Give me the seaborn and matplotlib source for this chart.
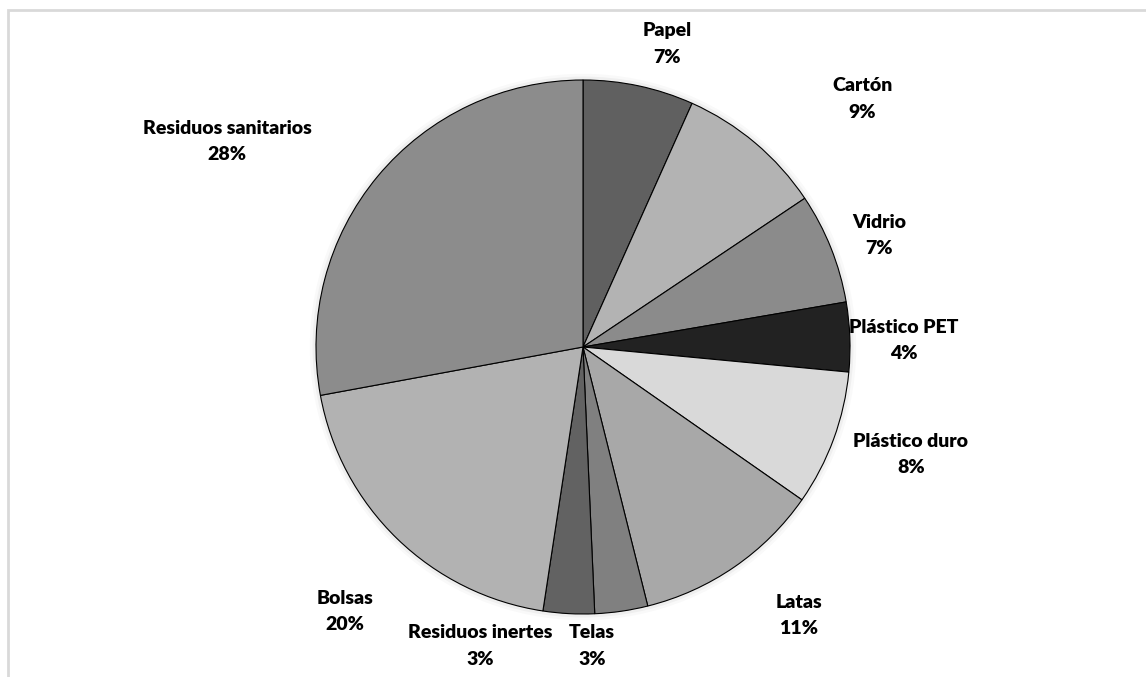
import matplotlib
matplotlib.use("Agg")
import matplotlib.pyplot as plt
import matplotlib.patches as mpatches
import seaborn as sns

# Composition of collected waste (share of total weight)
categories = ["Papel", "Cartón", "Vidrio", "Plástico PET", "Plástico duro",
              "Latas", "Telas", "Residuos inertes", "Bolsas", "Residuos sanitarios"]
shares = [6.7, 8.9, 6.7, 4.2, 8.2, 11.4, 3.2, 3.1, 19.7, 27.9]

# Grey fill for each wedge
wedge_colors = ["#606060", "#b3b3b3", "#8b8b8b", "#222222", "#d9d9d9",
                "#a8a8a8", "#808080", "#626262", "#b2b2b2", "#8c8c8c"]

# Label anchor points, in units of the pie radius
label_xy = [(0.315, 1.135), (1.045, 0.929), (1.110, 0.419), (1.200, 0.026),
            (1.228, -0.404), (0.809, -1.004), (0.034, -1.120), (-0.385, -1.120),
            (-0.891, -0.989), (-1.333, 0.768)]

sns.set_theme(style="white")
plt.rcParams["font.family"] = ["Lato", "DejaVu Sans"]

W, H = 1146, 677
fig = plt.figure(figsize=(W / 100, H / 100), dpi=100)
fig.patch.set_facecolor("white")

# Light chart-area frame (extends past the right and bottom edges)
frame = mpatches.Rectangle((7.5 / W, -0.05), 1.1, (H - 9.5) / H + 0.05,
                           transform=fig.transFigure, fill=False,
                           edgecolor="#d9d9d9", linewidth=2.0, zorder=0)
fig.patches.append(frame)

R = 267.0
cx, cy = 583.0, 347.0
half = 300.0
ax = fig.add_axes([(cx - half) / W, (H - cy - half) / H, 2 * half / W, 2 * half / H])

wedges, _ = ax.pie(
    shares, colors=wedge_colors, startangle=90, counterclock=False,
    radius=1.0, wedgeprops=dict(edgecolor="black", linewidth=0.8),
)

# Soft halo around the pie
for lw, a in [(9, 0.025), (5, 0.04)]:
    ax.add_patch(mpatches.Circle((0, 0), 1.0, facecolor="none", edgecolor="#000000",
                                 linewidth=lw, alpha=a, zorder=0))

ax.set_xlim(-half / R, half / R)
ax.set_ylim(-half / R, half / R)
ax.axis("off")

total = sum(shares)
for name, val, (lx, ly) in zip(categories, shares, label_xy):
    ax.text(lx, ly, f"{name}\n{round(val / total * 100):.0f}%",
            ha="center", va="center", fontsize=14, fontweight="heavy",
            color="black", linespacing=1.65, clip_on=False)

fig.savefig("out.png", dpi=100, facecolor="white")
